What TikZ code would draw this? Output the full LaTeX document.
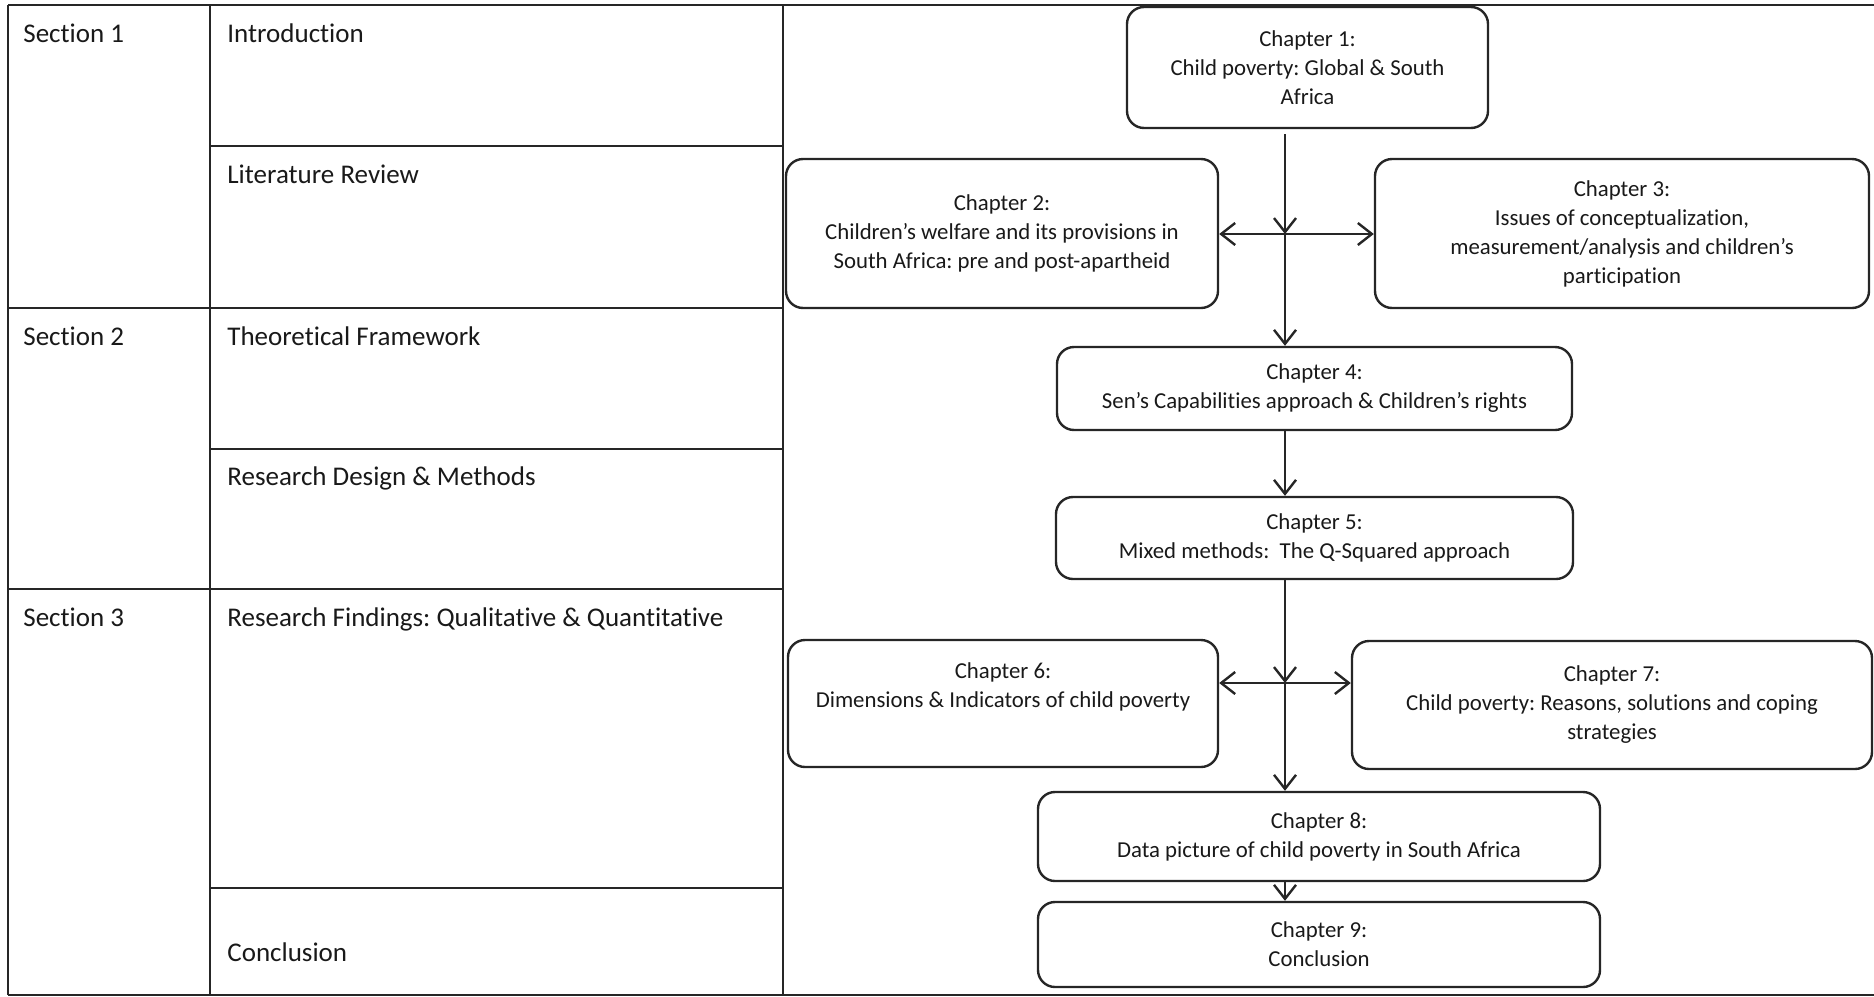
\documentclass[tikz,border=0pt]{standalone}
\usepackage{fontspec}
\setmainfont{Carlito}[Ligatures=NoCommon]
\usetikzlibrary{arrows.meta}
\frenchspacing
\begin{document}
\begin{tikzpicture}[x=0.5pt,y=-0.5pt,
  chbox/.style={draw=black!85, line width=1.2pt, rounded corners=8.5pt, align=center,
    font=\fontsize{11.4}{14.5}\selectfont, inner sep=0pt, text=black!90},
  arr/.style={draw=black!85, line width=1.2pt, -{Straight Barb[length=7pt,width=11pt,line width=1.2pt]}},
  tline/.style={draw=black!85, line width=1.4pt},
  ttext/.style={anchor=base west, font=\fontsize{13.5}{16}\selectfont, inner sep=0pt, text=black!90}]
\useasboundingbox (0,0) rectangle (1874,996);
% table grid
\draw[tline] (8,5) -- (1874,5);
\draw[tline] (8,995) -- (1874,995);
\draw[tline] (8,5) -- (8,995);
\draw[tline] (210,5) -- (210,995);
\draw[tline] (783,5) -- (783,995);
\draw[tline] (210,146) -- (783,146);
\draw[tline] (8,308) -- (783,308);
\draw[tline] (210,449) -- (783,449);
\draw[tline] (8,589) -- (783,589);
\draw[tline] (210,888) -- (783,888);
% table texts
\node[ttext] (s1) at (23,42) {Section 1};
\node[ttext] (intro) at (227,42) {Introduction};
\node[ttext] (lit) at (227,183) {Literature Review};
\node[ttext] (s2) at (23,345) {Section 2};
\node[ttext] (theo) at (227,345) {Theoretical Framework};
\node[ttext] (rdm) at (227,485) {Research Design \& Methods};
\node[ttext] (s3) at (23,626) {Section 3};
\node[ttext] (rf) at (227,626) {Research Findings: Qualitative \& Quantitative};
\node[ttext] (concl) at (227,961) {Conclusion};
% chapter boxes
\node[chbox, minimum width=180.5pt, minimum height=60.5pt] (c1) at (1307.5,67.5)
  {Chapter 1:\\Child poverty: Global \& South\\Africa};
\node[chbox, minimum width=216pt, minimum height=74.5pt] (c2) at (1002,233.5)
  {Chapter 2:\\Children’s welfare and its provisions in\\South Africa: pre and post-apartheid};
\node[chbox, minimum width=247pt, minimum height=74.5pt] (c3) at (1622,233.5)
  {Chapter 3:\\Issues of conceptualization,\\measurement/analysis and children’s\\participation};
\node[chbox, minimum width=257.5pt, minimum height=41.5pt] (c4) at (1314.5,388.5)
  {Chapter 4:\\Sen’s Capabilities approach \& Children’s rights};
\node[chbox, minimum width=258.5pt, minimum height=41pt] (c5) at (1314.5,538)
  {Chapter 5:\\Mixed methods:~ The Q-Squared approach};
\node[chbox, minimum width=215pt, minimum height=63.5pt] (c6) at (1003,703.5)
  {Chapter 6:\\Dimensions \& Indicators of child poverty\\\strut};
\node[chbox, minimum width=260pt, minimum height=64pt] (c7) at (1612,705)
  {Chapter 7:\\Child poverty: Reasons, solutions and coping\\strategies};
\node[chbox, minimum width=281pt, minimum height=44.5pt] (c8) at (1319,836.5)
  {Chapter 8:\\Data picture of child poverty in South Africa};
\node[chbox, minimum width=281pt, minimum height=42.5pt] (c9) at (1319,944.5)
  {Chapter 9:\\Conclusion};
% connectors
\coordinate (j1) at (1285,234);
\coordinate (j2) at (1285,683);
\draw[arr] ([yshift=-2.5pt]c1.south -| j1) -- (j1);
\draw[arr] (j1) -- (c2.east |- j1);
\draw[arr] (j1) -- (c3.west |- j1);
\draw[arr] (j1) -- (c4.north -| j1);
\draw[arr] (c4.south -| j1) -- (c5.north -| j1);
\draw[arr] (c5.south -| j1) -- (j2);
\draw[arr] (j2) -- (c6.east |- j2);
\draw[arr] (j2) -- (c7.west |- j2);
\draw[arr] (j2) -- (c8.north -| j2);
\draw[arr] (c8.south -| j2) -- (c9.north -| j2);
\end{tikzpicture}
\end{document}
